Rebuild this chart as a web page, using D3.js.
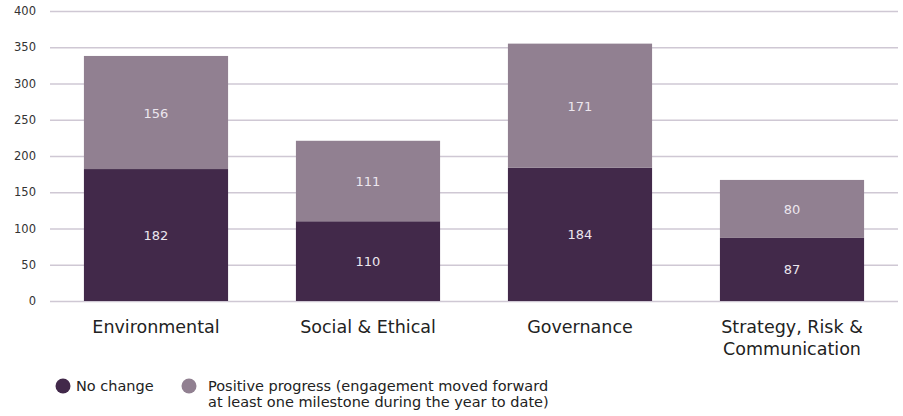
<!DOCTYPE html>
<html><head><meta charset="utf-8">
<script src="https://cdn.jsdelivr.net/npm/d3@7"></script>
<style>body{margin:0;background:#fff;}svg{display:block;font-family:"DejaVu Sans",sans-serif;}</style>
</head><body>
<svg id="chart" width="903" height="416"></svg>
<script>
const categories = ["Environmental", "Social & Ethical", "Governance", "Strategy, Risk & Communication"];
const categoryLines = [["Environmental"], ["Social & Ethical"], ["Governance"], ["Strategy, Risk &", "Communication"]];
const noChange = [182, 110, 184, 87];
const positiveProgress = [156, 111, 171, 80];
const yTicks = [0, 50, 100, 150, 200, 250, 300, 350, 400];
const seriesNames = ["No change", "Positive progress (engagement moved forward", "at least one milestone during the year to date)"];
const colors = ["#42294a", "#918091"];

const svg = d3.select("#chart");
const x = d3.scaleBand().domain(categories).range([50, 898]).paddingInner(0.32).paddingOuter(0.16);
const y = d3.scaleLinear().domain([0, 400]).range([301, 11]);

// gridlines
svg.append("g").selectAll("line").data(yTicks).join("line")
  .attr("x1", 50).attr("x2", 898)
  .attr("y1", d => y(d) + 0.5).attr("y2", d => y(d) + 0.5)
  .attr("stroke", "#cfc8d4").attr("stroke-width", 1.5);

// y axis labels
const yAxis = d3.axisLeft(y).tickValues(yTicks).tickSize(0).tickPadding(0);
const ya = svg.append("g").attr("transform", "translate(36,0)").call(yAxis);
ya.select(".domain").remove();
ya.selectAll("text").attr("font-size", 11.5).attr("fill", "#333").attr("font-family", "DejaVu Sans, sans-serif");

const data = categories.map((c, i) => ({c, a: noChange[i], b: positiveProgress[i]}));
const stack = d3.stack().keys(["a", "b"])(data);

stack.forEach((layer, li) => {
  const g = svg.append("g");
  g.selectAll("rect").data(layer).join("rect")
    .attr("x", d => x(d.data.c)).attr("width", x.bandwidth())
    .attr("y", d => y(d[1])).attr("height", d => y(d[0]) - y(d[1]))
    .attr("fill", colors[li]);
  g.selectAll("text").data(layer).join("text")
    .attr("x", d => x(d.data.c) + x.bandwidth() / 2)
    .attr("y", d => (y(d[0]) + y(d[1])) / 2 + 5)
    .attr("text-anchor", "middle").attr("font-size", 13)
    .attr("fill", "#ece6ee")
    .text(d => d[1] - d[0]);
});

// category labels
const xg = svg.append("g");
categories.forEach((c, i) => {
  const cx = x(c) + x.bandwidth() / 2;
  const t = xg.append("text").attr("x", cx).attr("y", 333)
    .attr("text-anchor", "middle").attr("font-size", 17.5).attr("fill", "#222");
  categoryLines[i].forEach((ln, j) => t.append("tspan").attr("x", cx).attr("dy", j ? 22 : 0).text(ln));
});

// legend
const lg = svg.append("g").attr("font-size", 14.5).attr("fill", "#222");
lg.append("circle").attr("cx", 63).attr("cy", 386).attr("r", 7.5).attr("fill", colors[0]);
lg.append("text").attr("x", 76).attr("y", 391).text(seriesNames[0]);
lg.append("circle").attr("cx", 189).attr("cy", 386).attr("r", 7.5).attr("fill", colors[1]);
lg.append("text").attr("x", 208).attr("y", 391).text(seriesNames[1]);
lg.append("text").attr("x", 208).attr("y", 407).text(seriesNames[2]);
</script>
</body></html>
